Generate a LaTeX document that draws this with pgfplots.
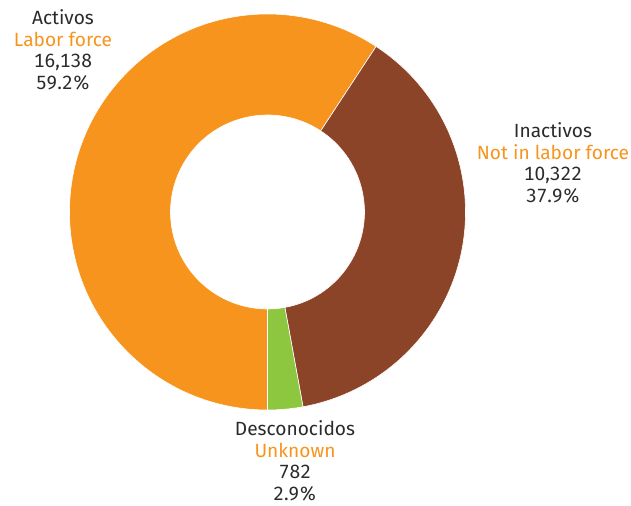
\documentclass[border=0pt]{standalone}
\usepackage{pgfplots}
\usepackage{pgfplotstable}
\pgfplotsset{compat=1.18}
\usepackage{fontspec}
\setmainfont{Fira Sans}[Numbers=Monospaced]
\definecolor{cOrange}{HTML}{F7941D}
\definecolor{cBrown}{HTML}{8B4427}
\definecolor{cGreen}{HTML}{8DC63F}
\definecolor{cText}{HTML}{2B2B2B}
\pgfplotstableread{
label value
Activos 16138
Inactivos 10322
Desconocidos 782
}\datatable
\begin{document}
\begin{tikzpicture}
\pgfplotstablegetelem{0}{value}\of\datatable \pgfmathsetmacro{\va}{\pgfplotsretval/1000}
\pgfplotstablegetelem{1}{value}\of\datatable \pgfmathsetmacro{\vb}{\pgfplotsretval/1000}
\pgfplotstablegetelem{2}{value}\of\datatable \pgfmathsetmacro{\vc}{\pgfplotsretval/1000}
\pgfmathsetmacro{\tot}{\va+\vb+\vc}
\pgfmathsetmacro{\aA}{-90}
\pgfmathsetmacro{\aB}{-90-360*\va/\tot}
\pgfmathsetmacro{\aC}{\aB-360*\vb/\tot}
\pgfmathsetmacro{\aD}{-450}
\def\cx{267.5}\def\cy{294}\def\R{198}\def\r{97}
\begin{axis}[
  scale only axis, width=631bp, height=506bp,
  xmin=0, xmax=631, ymin=0, ymax=506,
  axis lines=none, clip=false,
]
\path (rel axis cs:0,0) rectangle (rel axis cs:1,1);
\newcommand{\sector}[3]{%
  \fill[#3, draw=white, line width=0.6pt]
   (axis cs:{\cx+\R*cos(#1)},{\cy+\R*sin(#1)})
   arc[start angle=#1, end angle=#2, radius=\R bp]
   -- (axis cs:{\cx+\r*cos(#2)},{\cy+\r*sin(#2)})
   arc[start angle=#2, end angle=#1, radius=\r bp] -- cycle;}
\sector{\aA}{\aB}{cOrange}
\sector{\aB}{\aC}{cBrown}
\sector{\aC}{\aD}{cGreen}
\tikzset{lab/.style={align=center, text=cText, font=\fontsize{19.2}{21.7}\selectfont, inner sep=0pt}}
\node[lab] at (axis cs:63,456) {Activos\\\textcolor{cOrange}{Labor force}\\16,138\\59.2\%};
\node[lab] at (axis cs:553,343) {Inactivos\\\textcolor{cOrange}{Not in labor force}\\10,322\\37.9\%};
\node[lab] at (axis cs:295,45) {Desconocidos\\\textcolor{cOrange}{Unknown}\\782\\2.9\%};
\end{axis}
\end{tikzpicture}
\end{document}
